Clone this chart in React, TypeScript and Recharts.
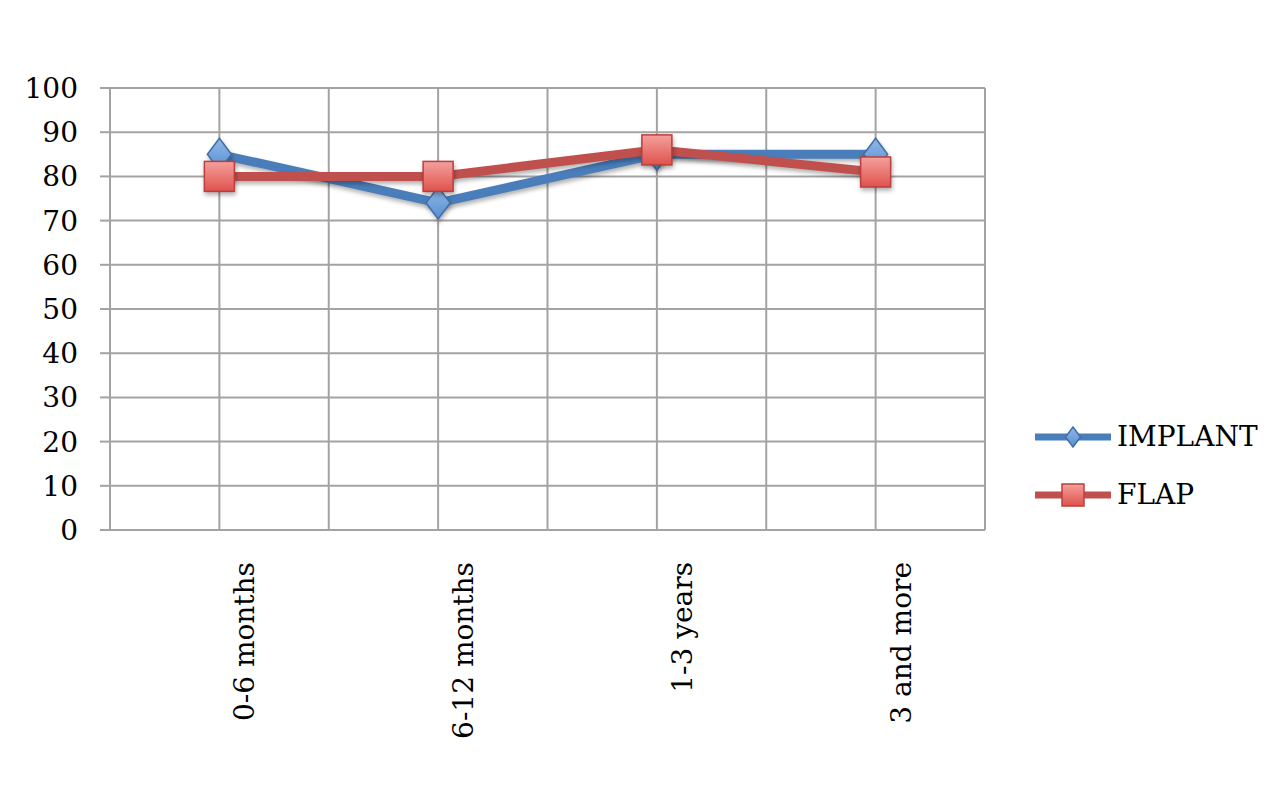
import React from 'react';
import { LineChart, Line, XAxis, YAxis, CartesianGrid, Legend } from 'recharts';

const categories = ['0-6 months', '6-12 months', '1-3 years', '3 and more'];
const implantValues = [85, 74, 85, 85];
const flapValues = [80, 80, 86, 81];
const yTicks = [0, 10, 20, 30, 40, 50, 60, 70, 80, 90, 100];
const boundaryTicks = [0, 1, 2, 3, 4];
const centerTicks = [0.5, 1.5, 2.5, 3.5];
const gridTicks = [0, 0.5, 1, 1.5, 2, 2.5, 3, 3.5, 4];

const data = categories.map((c, i) => ({
  x: i + 0.5,
  name: c,
  implant: implantValues[i],
  flap: flapValues[i],
}));

const FONT = '"DejaVu Serif", serif';
const BLUE = '#4a7ebb';
const RED = '#c0504d';
const GRID = '#a3a3a3';
const SHADOW = 'drop-shadow(1px 3px 2px rgba(0,0,0,0.3))';

const Diamond = ({ cx, cy, r = 15, idx = 0, shadow = true }: any) => {
  if (cx == null || cy == null) return null;
  const id = `dg${idx}-${Math.round(cx)}-${Math.round(cy)}`;
  return (
    <g style={shadow ? { filter: SHADOW } : undefined}>
      <defs>
        <linearGradient id={id} x1="0" y1="0" x2="0" y2="1">
          <stop offset="0%" stopColor="#8fb8e8" />
          <stop offset="100%" stopColor="#5a8ed0" />
        </linearGradient>
      </defs>
      <polygon
        points={`${cx},${cy - r} ${cx + r * 0.75},${cy} ${cx},${cy + r} ${cx - r * 0.75},${cy}`}
        fill={`url(#${id})`}
        stroke="#3f6ea8"
        strokeWidth={1.5}
      />
    </g>
  );
};

const Square = ({ cx, cy, s = 28, idx = 0, shadow = true }: any) => {
  if (cx == null || cy == null) return null;
  const id = `sg${idx}-${Math.round(cx)}-${Math.round(cy)}`;
  return (
    <g style={shadow ? { filter: SHADOW } : undefined}>
      <defs>
        <linearGradient id={id} x1="0" y1="0" x2="0" y2="1">
          <stop offset="0%" stopColor="#f4a09c" />
          <stop offset="100%" stopColor="#e0524d" />
        </linearGradient>
      </defs>
      <rect
        x={cx - s / 2}
        y={cy - s / 2}
        width={s}
        height={s}
        fill={`url(#${id})`}
        stroke="#b9403c"
        strokeWidth={1.5}
      />
    </g>
  );
};

const XLabelTick = (props: any) => {
  const { x, y, payload } = props;
  const idx = Math.round(payload.value - 0.5);
  return (
    <text
      transform={`translate(${x + 35},${y + 32}) rotate(-90)`}
      textAnchor="end"
      fontFamily={FONT}
      fontSize={28}
      fill="#000"
    >
      {categories[idx]}
    </text>
  );
};

const LegendContent = () => {
  const items = [
    { label: 'IMPLANT', color: BLUE, type: 'diamond' },
    { label: 'FLAP', color: RED, type: 'square' },
  ];
  return (
    <div style={{ fontFamily: FONT, fontSize: 28, color: '#000' }}>
      {items.map((it) => (
        <div key={it.label} style={{ display: 'flex', alignItems: 'center', height: 58 }}>
          <svg width={76} height={40} style={{ display: 'block' }}>
            <line x1={0} y1={20} x2={76} y2={20} stroke={it.color} strokeWidth={7} />
            {it.type === 'diamond' ? (
              <Diamond cx={38} cy={20} r={10} idx={99} shadow={false} />
            ) : (
              <Square cx={38} cy={20} s={22} idx={99} shadow={false} />
            )}
          </svg>
          <span style={{ marginLeft: 6, lineHeight: 1 }}>{it.label}</span>
        </div>
      ))}
    </div>
  );
};

const verticalGen = (props: any) => {
  const { xAxis, offset } = props || {};
  if (xAxis && typeof xAxis.scale === 'function') {
    return gridTicks.map((v) => xAxis.scale(v));
  }
  if (offset) {
    return gridTicks.map((v) => offset.left + (v / 4) * offset.width);
  }
  return [];
};

export default function App() {
  return (
    <div style={{ width: 1264, height: 784, background: '#fff', position: 'relative' }}>
      <style>{`.shadow-line .recharts-line-curve { filter: ${SHADOW}; }`}</style>
      <LineChart
        width={1264}
        height={784}
        data={data}
        margin={{ top: 80, right: 287, bottom: 0, left: 0 }}
      >
        <CartesianGrid
          xAxisId="grid"
          stroke={GRID}
          strokeWidth={2}
          vertical
          horizontal
          verticalCoordinatesGenerator={verticalGen}
        />
        <XAxis
          xAxisId="grid"
          dataKey="x"
          type="number"
          domain={[0, 4]}
          ticks={boundaryTicks}
          tick={false}
          tickSize={10}
          height={0}
          axisLine={{ stroke: GRID, strokeWidth: 2 }}
          tickLine={{ stroke: GRID, strokeWidth: 2 }}
        />
        <XAxis
          xAxisId="labels"
          dataKey="x"
          type="number"
          domain={[0, 4]}
          ticks={centerTicks}
          tick={<XLabelTick />}
          tickSize={0}
          tickMargin={0}
          height={262}
          axisLine={false}
          tickLine={false}
          interval={0}
        />
        <YAxis
          type="number"
          domain={[0, 100]}
          ticks={yTicks}
          width={102}
          tickSize={10}
          tickMargin={22}
          interval={0}
          axisLine={{ stroke: GRID, strokeWidth: 2 }}
          tickLine={{ stroke: GRID, strokeWidth: 2 }}
          tick={{ fontFamily: FONT, fontSize: 28, fill: '#000' }}
        />
        <Legend
          layout="horizontal"
          verticalAlign="middle"
          align="center"
          content={<LegendContent />}
          wrapperStyle={{ position: 'absolute', left: 1027, top: 400, width: 240 }}
        />
        <Line
          xAxisId="grid"
          className="shadow-line"
          dataKey="implant"
          name="IMPLANT"
          stroke={BLUE}
          strokeWidth={9}
          isAnimationActive={false}
          dot={(p: any) => <Diamond key={`d${p.index}`} cx={p.cx} cy={p.cy} r={16} idx={p.index} />}
          activeDot={false}
        />
        <Line
          xAxisId="grid"
          className="shadow-line"
          dataKey="flap"
          name="FLAP"
          stroke={RED}
          strokeWidth={9}
          isAnimationActive={false}
          dot={(p: any) => <Square key={`s${p.index}`} cx={p.cx} cy={p.cy} s={30} idx={p.index} />}
          activeDot={false}
        />
      </LineChart>
    </div>
  );
}
